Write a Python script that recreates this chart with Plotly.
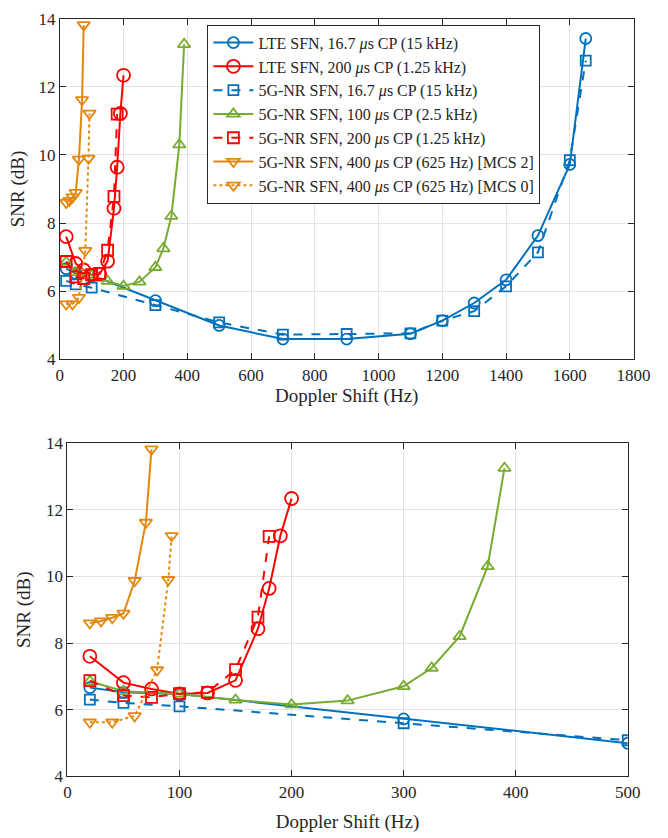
import plotly.graph_objects as go
from plotly.subplots import make_subplots

# Doppler shift (Hz) and required SNR (dB) per configuration
lte_15_x = [20, 50, 100, 300, 500, 700, 900, 1100, 1200, 1300, 1400, 1500, 1600, 1650]
lte_15_y = [6.66, 6.52, 6.47, 5.72, 4.99, 4.59, 4.59, 4.75, 5.13, 5.65, 6.33, 7.63, 9.72, 13.42]

lte_125_x = [20, 50, 75, 100, 125, 150, 170, 180, 190, 200]
lte_125_y = [7.6, 6.81, 6.62, 6.47, 6.5, 6.88, 8.43, 9.64, 11.22, 12.34]

nr_15_x = [20, 50, 100, 300, 500, 700, 900, 1100, 1200, 1300, 1400, 1500, 1600, 1650]
nr_15_y = [6.3, 6.2, 6.1, 5.59, 5.08, 4.72, 4.74, 4.76, 5.13, 5.41, 6.14, 7.14, 9.85, 12.77]

nr_25_x = [20, 50, 100, 150, 200, 250, 300, 325, 350, 375, 390]
nr_25_y = [6.85, 6.55, 6.47, 6.29, 6.15, 6.27, 6.7, 7.25, 8.2, 10.3, 13.25]

nr_125_x = [20, 50, 75, 100, 125, 150, 170, 180]
nr_125_y = [6.87, 6.42, 6.37, 6.48, 6.52, 7.2, 8.78, 11.2]

nr_625_mcs2_x = [20, 30, 40, 50, 60, 70, 75]
nr_625_mcs2_y = [8.6, 8.66, 8.76, 8.89, 9.87, 11.62, 13.82]

nr_625_mcs0_x = [20, 40, 60, 80, 90, 93]
nr_625_mcs0_y = [5.62, 5.62, 5.81, 7.19, 9.9, 11.22]

names = [
    "LTE SFN, 16.7 <i>μ</i>s CP (15 kHz)",
    "LTE SFN, 200 <i>μ</i>s CP (1.25 kHz)",
    "5G-NR SFN, 16.7 <i>μ</i>s CP (15 kHz)",
    "5G-NR SFN, 100 <i>μ</i>s CP (2.5 kHz)",
    "5G-NR SFN, 200 <i>μ</i>s CP (1.25 kHz)",
    "5G-NR SFN, 400 <i>μ</i>s CP (625 Hz) [MCS 2]",
    "5G-NR SFN, 400 <i>μ</i>s CP (625 Hz) [MCS 0]",
]

BLUE = "#0072BD"
RED = "#FF0000"
GREEN = "#77AC30"
ORANGE = "#E3870E"

series = [
    (lte_15_x, lte_15_y, BLUE, "solid", "circle-open", 11),
    (lte_125_x, lte_125_y, RED, "solid", "circle-open", 13),
    (nr_15_x, nr_15_y, BLUE, "dash", "square-open", 10),
    (nr_25_x, nr_25_y, GREEN, "solid", "triangle-up-open", 11),
    (nr_125_x, nr_125_y, RED, "dash", "square-open", 11),
    (nr_625_mcs2_x, nr_625_mcs2_y, ORANGE, "solid", "triangle-down-open", 11),
    (nr_625_mcs0_x, nr_625_mcs0_y, ORANGE, "dot", "triangle-down-open", 11),
]

FONT = "Liberation Serif"
INK = "#262626"

fig = make_subplots(rows=2, cols=1)

for row in (1, 2):
    for (xs, ys, color, dash, symbol, size), name in zip(series, names):
        if row == 2:
            pts = [(x, y) for x, y in zip(xs, ys) if x <= 500]
            xs, ys = [p[0] for p in pts], [p[1] for p in pts]
        fig.add_trace(
            go.Scatter(
                x=xs, y=ys, name=name, mode="lines+markers",
                line=dict(color=color, width=2, dash=dash),
                marker=dict(symbol=symbol, size=size, color=color,
                            line=dict(color=color, width=1.8)),
                showlegend=(row == 1),
            ),
            row=row, col=1,
        )

W, H = 668, 838
top_dom_x = [57.6 / W, 650 / W]
top_dom_y = [1 - 358.3 / H, 1 - 10 / H]
bot_dom_x = [65.5 / W, 644 / W]
bot_dom_y = [1 - 785 / H, 1 - 444.3 / H]

axis_common = dict(
    showline=True, linecolor=INK, linewidth=1, mirror="ticks",
    ticks="inside", ticklen=6, tickcolor=INK,
    showgrid=True, gridcolor="#e3e3e3", gridwidth=1,
    zeroline=False, tickfont=dict(family=FONT, size=17, color=INK),
)
title_font = dict(family=FONT, size=19, color=INK)

fig.update_xaxes(axis_common)
fig.update_yaxes(axis_common)

fig.update_xaxes(domain=top_dom_x, range=[0, 1800], dtick=200,
                 title=dict(text="Doppler Shift (Hz)", standoff=4, font=title_font),
                 row=1, col=1)
fig.update_yaxes(domain=top_dom_y, range=[4, 14], dtick=2,
                 title=dict(text="SNR (dB)", standoff=8, font=title_font),
                 row=1, col=1)
fig.update_xaxes(domain=bot_dom_x, range=[0, 500], dtick=100,
                 title=dict(text="Doppler Shift (Hz)", standoff=14, font=title_font),
                 row=2, col=1)
fig.update_yaxes(domain=bot_dom_y, range=[4, 14], dtick=2,
                 title=dict(text="SNR (dB)", standoff=10, font=title_font),
                 row=2, col=1)

fig.update_layout(
    width=W, height=H,
    margin=dict(l=0, r=0, t=0, b=0),
    paper_bgcolor="white", plot_bgcolor="white",
    font=dict(family=FONT, color=INK),
    legend=dict(
        x=210 / W, y=1 - 16 / H, xanchor="left", yanchor="top",
        bgcolor="white", bordercolor=INK, borderwidth=1,
        font=dict(family=FONT, size=16, color=INK),
        itemwidth=40, tracegroupgap=0,
    ),
)

fig.write_html("out.html")
